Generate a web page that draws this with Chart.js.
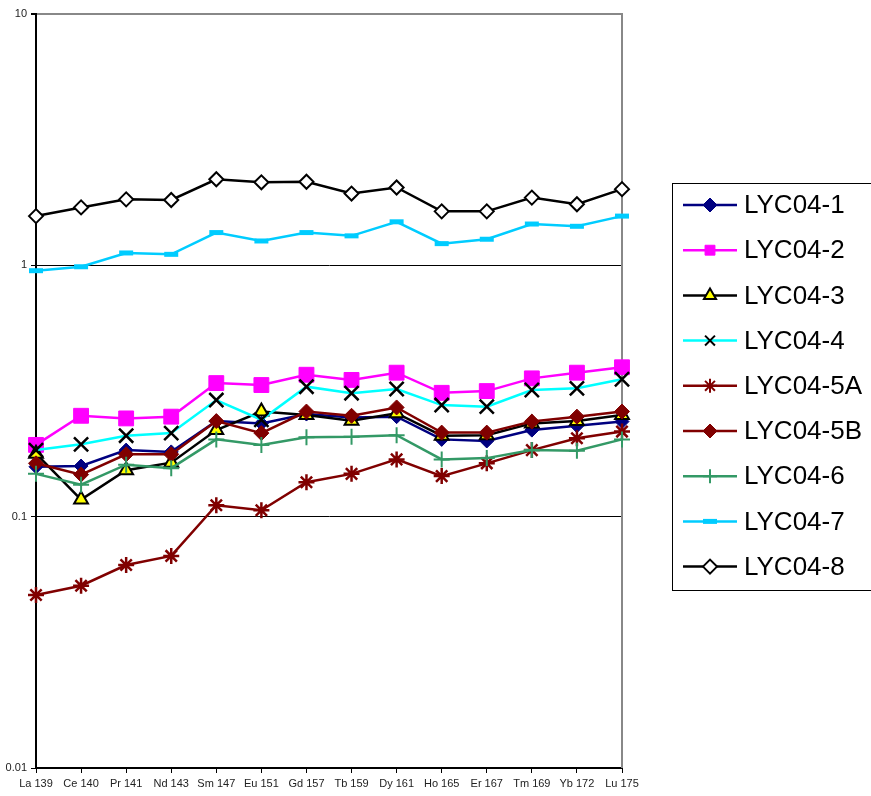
<!DOCTYPE html>
<html>
<head>
<meta charset="utf-8">
<script src="https://cdn.jsdelivr.net/npm/chart.js@4.4.1/dist/chart.umd.min.js"></script>
<style>
    body { margin: 0; background: #fff; }
    #wrap { width: 871px; height: 796px; }
</style>
</head>
<body>
<div id="wrap"><canvas id="myChart" width="871" height="796"></canvas></div>
<script>

var elements = ['La 139', 'Ce 140', 'Pr 141', 'Nd 143', 'Sm 147', 'Eu 151', 'Gd 157',
    'Tb 159', 'Dy 161', 'Ho 165', 'Er 167', 'Tm 169', 'Yb 172', 'Lu 175'];

var yTicks = [0.01, 0.1, 1, 10];

var lyc04_1 = [0.158, 0.159, 0.184, 0.181, 0.240, 0.235, 0.256, 0.248, 0.250, 0.203, 0.200, 0.221, 0.230, 0.239];
var lyc04_2 = [0.193, 0.252, 0.246, 0.250, 0.340, 0.334, 0.367, 0.350, 0.374, 0.311, 0.316, 0.355, 0.374, 0.393];
var lyc04_3 = [0.178, 0.117, 0.153, 0.164, 0.221, 0.262, 0.254, 0.241, 0.258, 0.210, 0.211, 0.235, 0.240, 0.254];
var lyc04_4 = [0.184, 0.194, 0.210, 0.215, 0.291, 0.243, 0.329, 0.310, 0.322, 0.278, 0.274, 0.319, 0.324, 0.352];
var lyc04_5a = [0.0488, 0.0531, 0.0642, 0.0698, 0.111, 0.106, 0.137, 0.148, 0.169, 0.145, 0.163, 0.184, 0.205, 0.218];
var lyc04_5b = [0.163, 0.147, 0.177, 0.177, 0.240, 0.215, 0.262, 0.252, 0.272, 0.216, 0.216, 0.239, 0.250, 0.262];
var lyc04_6 = [0.148, 0.134, 0.161, 0.156, 0.203, 0.193, 0.207, 0.208, 0.211, 0.169, 0.171, 0.184, 0.183, 0.203];
var lyc04_7 = [0.952, 0.987, 1.12, 1.106, 1.35, 1.25, 1.35, 1.31, 1.49, 1.22, 1.27, 1.46, 1.43, 1.57];
var lyc04_8 = [1.57, 1.70, 1.83, 1.82, 2.20, 2.14, 2.15, 1.93, 2.04, 1.64, 1.64, 1.86, 1.75, 2.01];

var FONT = "'Liberation Sans', Arial, sans-serif";

function series(label, data, line, marker) {
    return {
        label: label,
        data: data,
        borderColor: line,
        borderWidth: 2.5,
        tension: 0,
        fill: false,
        clip: false,
        pointStyle: marker.style,
        pointRadius: marker.radius,
        pointBackgroundColor: marker.fill,
        pointBorderColor: marker.stroke,
        pointBorderWidth: marker.width,
        pointHoverRadius: marker.radius
    };
}

var datasets = [
    series('LYC04-1', lyc04_1, '#000080', { style: 'rectRot', radius: 7, fill: '#000080', stroke: '#000080', width: 1 }),
    series('LYC04-2', lyc04_2, '#FF00FF', { style: 'rect', radius: 10.5, fill: '#FF00FF', stroke: '#FF00FF', width: 1 }),
    series('LYC04-3', lyc04_3, '#000000', { style: 'triangle', radius: 8, fill: '#FFFF00', stroke: '#000000', width: 2 }),
    series('LYC04-4', lyc04_4, '#00FFFF', { style: 'crossRot', radius: 10, fill: '#000000', stroke: '#000000', width: 2.5 }),
    series('LYC04-5A', lyc04_5a, '#800000', { style: 'star', radius: 8, fill: '#800000', stroke: '#800000', width: 2.5 }),
    series('LYC04-5B', lyc04_5b, '#800000', { style: 'rectRot', radius: 7.5, fill: '#800000', stroke: '#800000', width: 1 }),
    series('LYC04-6', lyc04_6, '#339966', { style: 'cross', radius: 8, fill: '#339966', stroke: '#339966', width: 2 }),
    series('LYC04-7', lyc04_7, '#00CCFF', { style: 'line', radius: 7, fill: '#00CCFF', stroke: '#00CCFF', width: 5 }),
    series('LYC04-8', lyc04_8, '#000000', { style: 'rectRot', radius: 7, fill: '#FFFFFF', stroke: '#000000', width: 2 })
];

// later series sit on top, like the spreadsheet
for (var i = 0; i < datasets.length; i++) {
    datasets[i].order = datasets.length - i;
}

// gray frame on the right side of the plot area
var frame = {
    id: 'frame',
    beforeDatasetsDraw: function (chart) {
        var a = chart.chartArea;
        var ctx = chart.ctx;
        ctx.save();
        ctx.strokeStyle = '#888888';
        ctx.lineWidth = 2;
        ctx.beginPath();
        ctx.moveTo(a.right, a.top - 1);
        ctx.lineTo(a.right, a.bottom);
        ctx.stroke();
        ctx.restore();
    }
};

// boxed legend with line + marker samples
var boxLegend = {
    id: 'boxLegend',
    afterDraw: function (chart) {
        var ctx = chart.ctx;
        var drawPoint = Chart.helpers && Chart.helpers.drawPoint;
        var left = 672, top = 183, step = 45.2;
        ctx.save();
        ctx.strokeStyle = '#000000';
        ctx.lineWidth = 1;
        ctx.strokeRect(left + 0.5, top + 0.5, 220, 407);
        ctx.font = '26px ' + FONT;
        ctx.textBaseline = 'middle';
        ctx.textAlign = 'left';
        chart.data.datasets.forEach(function (ds, k) {
            var y = 205 + k * step;
            ctx.strokeStyle = ds.borderColor;
            ctx.lineWidth = 2.5;
            ctx.beginPath();
            ctx.moveTo(683, y);
            ctx.lineTo(737, y);
            ctx.stroke();
            if (drawPoint) {
                ctx.fillStyle = ds.pointBackgroundColor;
                ctx.strokeStyle = ds.pointBorderColor;
                ctx.lineWidth = ds.pointStyle === 'line' ? ds.pointBorderWidth : Math.min(ds.pointBorderWidth, 2);
                drawPoint(ctx, {
                    pointStyle: ds.pointStyle,
                    radius: Math.min(ds.pointRadius, 7),
                    rotation: 0,
                    borderWidth: ds.pointBorderWidth
                }, 710, y);
            }
            ctx.fillStyle = '#000000';
            ctx.fillText(ds.label, 744, y + 1);
        });
        ctx.restore();
    }
};

var ctx = document.getElementById('myChart').getContext('2d');

var myChart = new Chart(ctx, {
    type: 'line',
    data: {
        labels: elements,
        datasets: datasets
    },
    plugins: [frame, boxLegend],
    options: {
        responsive: false,
        animation: false,
        events: [],
        layout: { padding: { top: 14, right: 249, left: 0, bottom: 0 } },
        plugins: {
            legend: { display: false },
            tooltip: { enabled: false }
        },
        scales: {
            x: {
                type: 'category',
                offset: false,
                afterFit: function (s) { s.height = 28; },
                grid: {
                    drawOnChartArea: false,
                    color: '#000000',
                    tickLength: 5
                },
                border: { color: '#000000', width: 2 },
                ticks: {
                    maxRotation: 0,
                    autoSkip: false,
                    padding: 4,
                    color: '#222222',
                    font: { family: FONT, size: 11 }
                }
            },
            y: {
                type: 'logarithmic',
                min: 0.01,
                max: 10,
                afterFit: function (s) { s.width = 36; },
                afterBuildTicks: function (s) {
                    s.ticks = yTicks.map(function (v) { return { value: v }; });
                },
                grid: {
                    color: function (c) {
                        return c.tick && c.tick.value === 10 ? '#888888' : '#000000';
                    },
                    lineWidth: function (c) {
                        return c.tick && c.tick.value === 10 ? 2 : 1;
                    },
                    tickColor: '#000000',
                    tickLength: 5
                },
                border: { color: '#000000', width: 2 },
                ticks: {
                    padding: 4,
                    color: '#222222',
                    font: { family: FONT, size: 11 },
                    callback: function (v) { return String(v); }
                }
            }
        }
    }
});
</script>
</body>
</html>
